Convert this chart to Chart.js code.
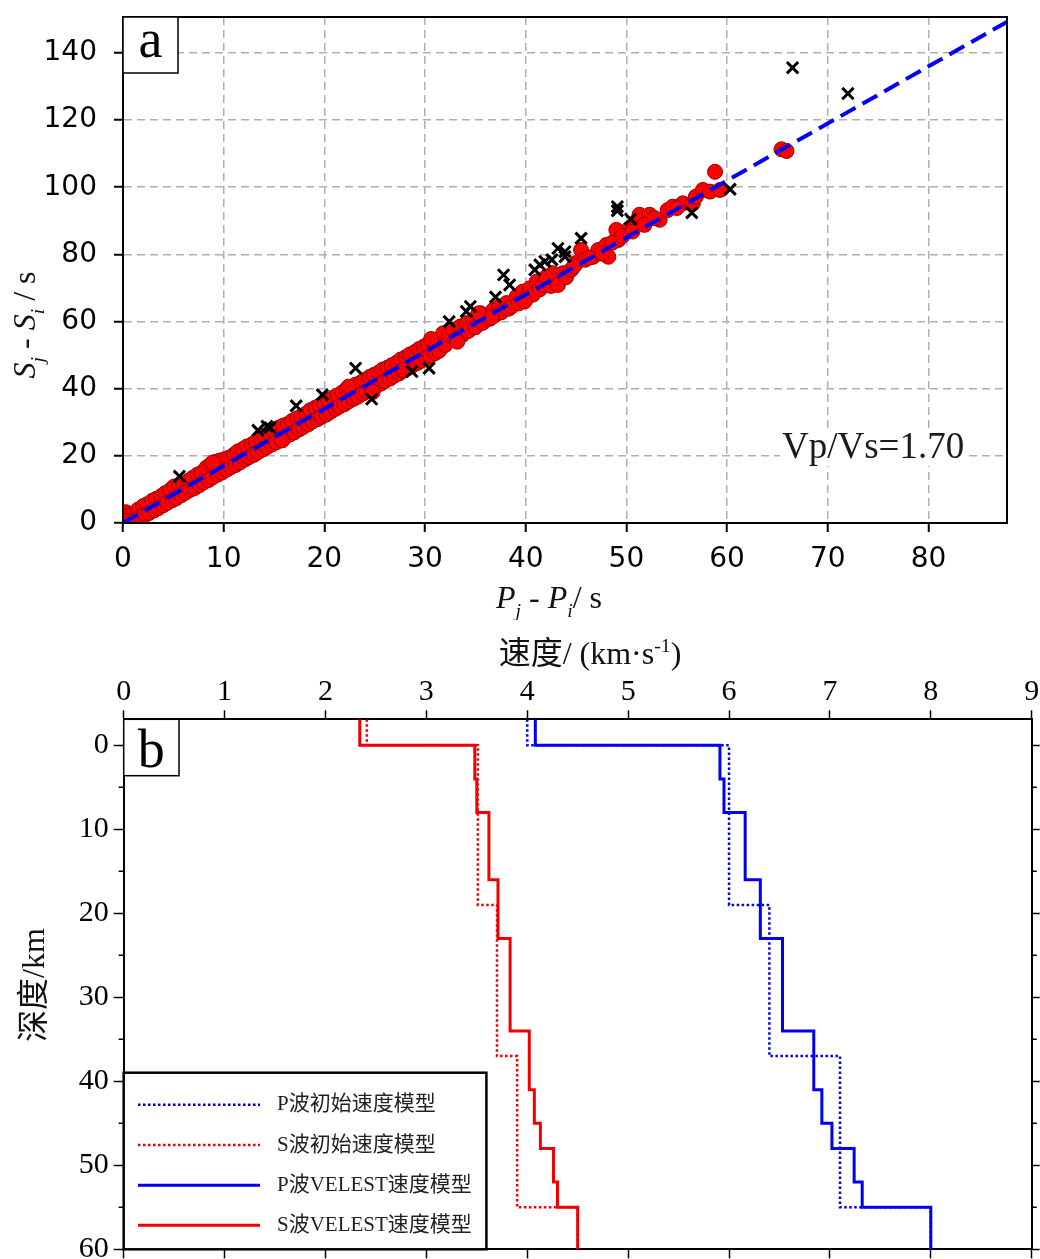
<!DOCTYPE html>
<html>
<head>
<meta charset="utf-8">
<script src="https://cdn.jsdelivr.net/npm/chart.js@4.4.0/dist/chart.umd.min.js"></script>
<style>
  html, body { margin: 0; padding: 0; background: #fff; }
  #wrap { position: relative; width: 1040px; height: 1259px; }
  canvas { position: absolute; left: 0; }
  #chartA { top: 0; }
  #chartB { top: 620px; }
</style>
</head>
<body>
<div id="wrap">
  <canvas id="chartA" width="1040" height="620"></canvas>
  <canvas id="chartB" width="1040" height="639"></canvas>
</div>
<script>
// ---- panel a: S and P travel-time differences ----
const dotPjPi = [
  0.3, 0.6, 1.0, 1.5, 2.0, 2.4, 2.9, 3.3, 3.8, 4.2,
  4.7, 5.1, 5.6, 6.0, 6.5, 6.9, 7.4, 7.8, 8.3, 8.7,
  9.2, 9.6, 10.1, 10.5, 11.0, 11.4, 11.9, 12.3, 12.8, 13.2,
  13.7, 14.1, 14.6, 15.0, 15.5, 15.9, 16.4, 16.8, 17.3, 17.7,
  18.2, 18.6, 19.1, 19.5, 20.0, 20.4, 20.9, 21.3, 21.8, 22.2,
  22.7, 23.1, 23.6, 24.0, 24.5, 24.9, 25.4, 25.8, 26.3, 26.7,
  27.2, 27.6, 28.1, 28.5, 29.0, 29.4, 29.9, 30.3, 30.8, 31.2,
  0.5, 0.9, 1.3, 1.7, 2.2, 2.6, 3.1, 3.5, 4.0, 4.4,
  4.9, 5.3, 5.8, 6.2, 6.7, 7.1, 7.6, 8.0, 8.5, 8.9,
  9.4, 9.8, 10.3, 10.7, 11.2, 11.6, 12.1, 12.5, 13.0, 13.4,
  13.9, 14.3, 14.8, 15.2, 15.7, 16.1, 16.6, 17.0, 17.5, 17.9,
  18.4, 18.8, 19.3, 19.7, 20.2, 20.6, 21.1, 21.5, 22.0, 22.4,
  22.9, 23.3, 23.8, 24.2, 24.7, 25.1, 25.6, 26.0, 26.5, 26.9,
  27.4, 27.8, 28.3, 28.7, 29.2, 29.6, 30.1, 30.5, 31.0, 31.4,
  31.8, 32.0, 32.4, 32.8, 33.0, 33.5, 33.7, 34.1, 34.3, 34.8,
  35.0, 35.5, 35.7, 36.1, 36.4, 36.8, 37.0, 37.4, 37.6, 38.1,
  38.3, 38.6, 39.1, 39.3, 39.7, 40.0, 40.4, 40.7, 41.1, 41.4,
  41.7, 42.2, 42.5, 42.7, 43.2, 43.7, 44.0, 44.5, 45.0, 45.5,
  45.9, 46.7, 47.2, 48.0, 48.2, 49.0, 49.2, 50.3, 51.0, 51.3,
  52.3, 53.3, 54.1, 54.6, 55.6, 56.6, 56.9, 57.6, 58.3, 59.3,
  58.8, 65.4, 65.9,
  44.8, 46.3, 47.6, 48.6, 49.6, 50.6, 51.8, 52.8, 55.0, 36.6,
  8.9, 15.8, 22.4, 24.8, 27.9, 30.6, 33.2, 35.3, 39.9, 42.0
];
const dotSjSi = [
  3.2, 2.4, 2.6, 4.0, 5.0, 5.6, 6.6, 7.2, 8.0, 8.9,
  9.8, 10.9, 11.2, 11.8, 12.6, 13.4, 14.4, 15.0, 16.5, 17.4,
  18.2, 18.6, 19.0, 19.4, 20.3, 21.3, 22.0, 22.8, 23.4, 24.2,
  25.3, 26.0, 26.6, 27.3, 28.4, 29.0, 29.5, 30.4, 31.2, 31.8,
  32.6, 33.6, 34.3, 34.9, 35.6, 36.6, 37.4, 38.0, 38.9, 39.8,
  40.4, 41.2, 41.8, 42.6, 43.5, 44.1, 44.8, 45.7, 46.3, 47.0,
  47.8, 48.7, 49.4, 50.2, 50.9, 51.8, 52.6, 53.2, 54.0, 54.6,
  0.6, 0.4, 0.9, 1.6, 2.4, 3.0, 3.8, 4.4, 5.3, 6.0,
  6.8, 7.4, 8.3, 9.0, 9.9, 10.4, 11.3, 12.1, 12.8, 13.6,
  14.4, 15.0, 15.9, 16.6, 17.3, 18.0, 18.9, 19.6, 20.3, 21.1,
  21.9, 22.6, 23.4, 24.0, 24.9, 25.6, 26.4, 27.0, 27.9, 28.6,
  29.4, 30.2, 30.9, 31.6, 32.3, 33.1, 34.0, 34.7, 35.4, 36.2,
  37.0, 37.6, 38.5, 39.1, 40.0, 40.8, 41.5, 42.3, 43.0, 43.8,
  44.5, 45.3, 46.1, 46.8, 47.6, 48.3, 49.1, 49.7, 50.6, 51.3,
  56.5, 53.0, 55.8, 57.5, 54.6, 58.5, 56.0, 59.5, 57.2, 60.5,
  58.3, 62.5, 59.6, 61.5, 60.8, 63.5, 62.0, 64.5, 62.8, 65.5,
  63.8, 64.5, 67.4, 65.4, 68.9, 66.8, 69.9, 68.0, 71.9, 69.6,
  70.9, 72.4, 70.6, 74.4, 70.9, 74.4, 73.2, 75.4, 77.4, 81.3,
  78.4, 79.3, 81.3, 82.8, 79.3, 87.3, 84.3, 87.8, 89.8, 91.8,
  91.8, 90.3, 93.2, 94.2, 95.2, 95.2, 97.2, 99.2, 98.7, 99.2,
  104.6, 111.3, 110.8,
  76.5, 79.0, 80.2, 83.5, 85.5, 86.8, 88.8, 90.8, 93.8, 61.2,
  18.0, 24.6, 40.6, 39.0, 45.6, 54.8, 54.0, 62.4, 66.0, 73.2
];
const crossPjPi = [5.6, 13.4, 14.3, 14.6, 17.2, 19.8, 23.1, 24.7, 28.7, 30.4,
  32.4, 34.1, 34.5, 37.0, 37.8, 38.4, 40.9, 41.4, 41.9, 42.6,
  43.2, 43.9, 43.9, 45.5, 49.1, 49.1, 50.4, 56.5, 60.3, 66.5, 72.0];
const crossSjSi = [13.9, 27.6, 28.8, 28.4, 34.9, 38.2, 46.1, 36.9, 45.1, 46.1,
  60.0, 63.0, 64.5, 67.3, 73.9, 70.9, 75.4, 76.9, 77.9, 78.4,
  81.8, 80.8, 79.3, 84.8, 94.2, 93.0, 90.5, 92.4, 99.4, 135.6, 127.9];
const fitPjPi = [0, 88];
const fitSjSi = [0, 149.6];
const ratioLabel = 'Vp/Vs=1.70';

// ---- panel b: 1-D velocity models (layer top depth, velocity) ----
const maxDepth = 60;
const pInitTop = [-3.1, 0, 19, 37, 55];
const pInitV = [4.00, 6.00, 6.40, 7.10, 8.00];
const sInitTop = [-3.1, 0, 19, 37, 55];
const sInitV = [2.41, 3.51, 3.70, 3.90, 4.50];
const pVelTop = [-3.1, 0, 4, 8, 16, 23, 34, 41, 45, 48, 52, 55];
const pVelV = [4.08, 5.91, 5.95, 6.16, 6.31, 6.53, 6.84, 6.92, 7.02, 7.24, 7.32, 8.00];
const sVelTop = [-3.1, 0, 4, 8, 16, 23, 34, 41, 45, 48, 52, 55];
const sVelV = [2.34, 3.48, 3.50, 3.62, 3.71, 3.83, 4.02, 4.07, 4.13, 4.26, 4.30, 4.50];
const minorDepthTicks = [5, 15, 25, 35, 45, 55];

const SERIF = "'Liberation Serif', 'Noto Sans CJK SC', serif";

const zip = (xs, ys) => xs.map((x, i) => ({x: x, y: ys[i]}));

function steps(tops, vels) {
  const pts = [];
  tops.forEach((t, i) => {
    const bottom = i < tops.length - 1 ? tops[i + 1] : maxDepth;
    pts.push({x: vels[i], y: t}, {x: vels[i], y: bottom});
  });
  return pts;
}

// force scale box size, drop label overflow padding
const fixBox = (prop, size) => scale => {
  scale[prop] = size;
  scale.paddingTop = scale.paddingBottom = scale.paddingLeft = scale.paddingRight = 0;
};

// text with sub/superscripts, centred on x
function richText(ctx, parts, x, y, size, angle) {
  ctx.save();
  ctx.translate(x, y);
  ctx.rotate(angle || 0);
  ctx.textBaseline = 'alphabetic';
  ctx.textAlign = 'left';
  ctx.fillStyle = '#111';
  const fontFor = p => (p.it ? 'italic ' : '') + ((p.sub || p.sup) ? size * 0.62 : size) + 'px ' + SERIF;
  let total = 0;
  parts.forEach(p => { ctx.font = fontFor(p); total += ctx.measureText(p.t).width; });
  let cx = -total / 2;
  parts.forEach(p => {
    ctx.font = fontFor(p);
    const dy = p.sub ? size * 0.28 : (p.sup ? -size * 0.36 : 0);
    ctx.fillText(p.t, cx, dy);
    cx += ctx.measureText(p.t).width;
  });
  ctx.restore();
}

function panelTag(ctx, letter, x1, y1, x2, y2, baseline) {
  ctx.save();
  ctx.fillStyle = '#fff';
  ctx.fillRect(x1, y1, x2 - x1, y2 - y1);
  ctx.strokeStyle = '#000';
  ctx.lineWidth = 1.5;
  ctx.strokeRect(x1, y1, x2 - x1, y2 - y1);
  ctx.fillStyle = '#000';
  ctx.font = '54px ' + SERIF;
  ctx.textAlign = 'center';
  ctx.textBaseline = 'alphabetic';
  ctx.fillText(letter, (x1 + x2) / 2, baseline);
  ctx.restore();
}

const decorA = {
  id: 'decorA',
  afterDraw(chart) {
    const {ctx, chartArea: a} = chart;
    ctx.save();
    ctx.strokeStyle = '#000';
    ctx.lineWidth = 2;
    ctx.strokeRect(a.left, a.top, a.right - a.left, a.bottom - a.top);

    // ratio label
    ctx.font = '37px ' + SERIF;
    const w = ctx.measureText(ratioLabel).width;
    ctx.fillStyle = '#fff';
    ctx.fillRect(780, 428, w + 4, 38);
    ctx.fillStyle = '#1a1a1a';
    ctx.textBaseline = 'alphabetic';
    ctx.fillText(ratioLabel, 782, 458);
    ctx.restore();

    panelTag(ctx, 'a', a.left, a.top, 178, 73, 57);

    richText(ctx, [{t: 'P', it: true}, {t: 'j', it: true, sub: true}, {t: ' - '},
      {t: 'P', it: true}, {t: 'i', it: true, sub: true}, {t: '/ s'}], 549, 608, 32, 0);
    richText(ctx, [{t: 'S', it: true}, {t: 'j', it: true, sub: true}, {t: ' - '},
      {t: 'S', it: true}, {t: 'i', it: true, sub: true}, {t: ' / s'}], 35, 325, 32, -Math.PI / 2);
  }
};

const decorB = {
  id: 'decorB',
  afterDraw(chart) {
    const {ctx, chartArea: a} = chart;
    const ys = chart.scales.y;
    ctx.save();
    ctx.strokeStyle = '#000';
    ctx.lineWidth = 1.5;
    ctx.beginPath();
    minorDepthTicks.forEach(d => {
      const py = ys.getPixelForValue(d);
      ctx.moveTo(a.left - 5, py); ctx.lineTo(a.left, py);
      ctx.moveTo(a.right, py); ctx.lineTo(a.right + 5, py);
    });
    ctx.stroke();

    // legend
    const lx1 = a.left, ly1 = 452.7, lx2 = 486.4, ly2 = a.bottom;
    ctx.fillStyle = '#fff';
    ctx.fillRect(lx1, ly1, lx2 - lx1, ly2 - ly1);
    ctx.lineWidth = 2.5;
    ctx.strokeRect(lx1, ly1, lx2 - lx1, ly2 - ly1);
    const rowY = [484.7, 525, 565.3, 605.3];
    chart.data.datasets.forEach((ds, i) => {
      const yy = rowY[i];
      ctx.save();
      ctx.strokeStyle = ds.borderColor;
      ctx.lineWidth = ds.borderWidth;
      ctx.setLineDash(ds.borderDash || []);
      ctx.beginPath();
      ctx.moveTo(138, yy); ctx.lineTo(260, yy);
      ctx.stroke();
      ctx.restore();
      ctx.fillStyle = '#222';
      ctx.font = '21px ' + SERIF;
      ctx.textBaseline = 'middle';
      ctx.textAlign = 'left';
      ctx.fillText(ds.label, 277, yy);
    });
    ctx.restore();

    panelTag(ctx, 'b', a.left, a.top, 179, 155.7, 146.7);

    richText(ctx, [{t: '速度/ (km·s'}, {t: '-1', sup: true}, {t: ')'}], 590, 44, 32, 0);
    richText(ctx, [{t: '深度/km'}], 44, 365, 32, -Math.PI / 2);
  }
};

new Chart(document.getElementById('chartA').getContext('2d'), {
  type: 'scatter',
  data: {
    datasets: [
      {
        label: 'Vp/Vs',
        data: zip(fitPjPi, fitSjSi),
        showLine: true,
        borderColor: '#0000ff',
        borderWidth: 4,
        borderDash: [17, 8],
        pointRadius: 0,
        order: 0
      },
      {
        label: 'outliers',
        data: zip(crossPjPi, crossSjSi),
        pointStyle: 'crossRot',
        pointRadius: 8,
        pointBorderColor: '#000',
        pointBorderWidth: 3,
        borderColor: '#000',
        order: 1
      },
      {
        label: 'picks',
        data: zip(dotPjPi, dotSjSi),
        pointRadius: 7.5,
        pointBackgroundColor: '#ff0000',
        pointBorderColor: '#9a0000',
        pointBorderWidth: 1,
        order: 2
      }
    ]
  },
  options: {
    responsive: false,
    animation: false,
    events: [],
    layout: { padding: { top: 17, right: 33, left: 0, bottom: 0 } },
    plugins: { legend: { display: false }, tooltip: { enabled: false } },
    scales: {
      x: {
        type: 'linear',
        position: 'bottom',
        min: 0,
        max: 87.8,
        ticks: { stepSize: 10, includeBounds: false, color: '#000', padding: 11, maxRotation: 0,
                 font: { family: 'DejaVu Sans', size: 28 } },
        grid: { color: '#b0b0b0', lineWidth: 1.5, tickLength: 9, tickColor: '#000', tickWidth: 2 },
        border: { color: '#000', width: 2, dash: [8, 5] },
        afterFit: fixBox('height', 97)
      },
      y: {
        type: 'linear',
        position: 'left',
        min: 0,
        max: 150.7,
        ticks: { stepSize: 20, includeBounds: false, color: '#000', padding: 17,
                 font: { family: 'DejaVu Sans', size: 28 } },
        grid: { color: '#b0b0b0', lineWidth: 1.5, tickLength: 9, tickColor: '#000', tickWidth: 2 },
        border: { color: '#000', width: 2, dash: [8, 5] },
        afterFit: fixBox('width', 123)
      }
    }
  },
  plugins: [decorA]
});

const stepLine = (label, pts, color, dotted, order) => ({
  label: label,
  data: pts,
  showLine: true,
  borderColor: color,
  borderWidth: dotted ? 2.5 : 3,
  borderDash: dotted ? [2.5, 2.5] : [],
  pointRadius: 0,
  xAxisID: 'x',
  yAxisID: 'y',
  order: order
});

const axisTicks = { drawOnChartArea: false, tickColor: '#000', tickWidth: 1.5 };

new Chart(document.getElementById('chartB').getContext('2d'), {
  type: 'scatter',
  data: {
    datasets: [
      stepLine('P波初始速度模型', steps(pInitTop, pInitV), '#0000f0', true, 1),
      stepLine('S波初始速度模型', steps(sInitTop, sInitV), '#f00000', true, 1),
      stepLine('P波VELEST速度模型', steps(pVelTop, pVelV), '#0000f0', false, 0),
      stepLine('S波VELEST速度模型', steps(sVelTop, sVelV), '#f00000', false, 0)
    ]
  },
  options: {
    responsive: false,
    animation: false,
    events: [],
    layout: { padding: 0 },
    plugins: { legend: { display: false }, tooltip: { enabled: false } },
    scales: {
      x: {
        type: 'linear',
        position: 'top',
        min: 0,
        max: 9,
        ticks: { stepSize: 1, includeBounds: false, color: '#000', padding: 0, maxRotation: 0,
                 font: { family: "'Liberation Serif', serif", size: 30 } },
        grid: Object.assign({ tickLength: 9 }, axisTicks),
        border: { color: '#000', width: 2 },
        afterFit: fixBox('height', 99.3)
      },
      x2: {
        type: 'linear',
        position: 'bottom',
        min: 0,
        max: 9,
        ticks: { stepSize: 1, display: false },
        grid: Object.assign({ tickLength: 9 }, axisTicks),
        border: { color: '#000', width: 2 },
        afterFit: fixBox('height', 9.7)
      },
      y: {
        type: 'linear',
        position: 'left',
        reverse: true,
        min: -3.1,
        max: maxDepth,
        ticks: { stepSize: 10, includeBounds: false, color: '#000', padding: 5,
                 font: { family: "'Liberation Serif', serif", size: 30 } },
        grid: Object.assign({ tickLength: 10 }, axisTicks),
        border: { color: '#000', width: 2 },
        afterFit: fixBox('width', 123.7)
      },
      y2: {
        type: 'linear',
        position: 'right',
        reverse: true,
        min: -3.1,
        max: maxDepth,
        ticks: { stepSize: 10, includeBounds: false, display: false },
        grid: Object.assign({ tickLength: 8 }, axisTicks),
        border: { color: '#000', width: 2 },
        afterFit: fixBox('width', 8.3)
      }
    }
  },
  plugins: [decorB]
});
</script>
</body>
</html>
